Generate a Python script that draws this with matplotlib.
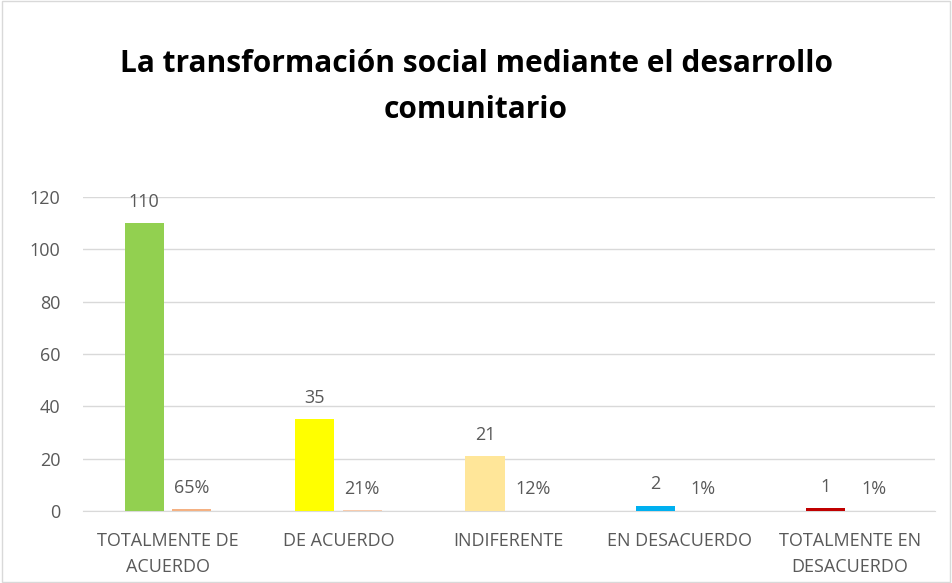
import matplotlib.pyplot as plt
from matplotlib.patches import Rectangle
import numpy as np

categorias = ["TOTALMENTE DE\nACUERDO", "DE ACUERDO", "INDIFERENTE",
              "EN DESACUERDO", "TOTALMENTE EN\nDESACUERDO"]
frecuencia = [110, 35, 21, 2, 1]
porcentaje = [0.65, 0.21, 0.12, 0.01, 0.01]
etiquetas_pct = ["65%", "21%", "12%", "1%", "1%"]

colores = ["#92D050", "#FFFF00", "#FFE699", "#00B0F0", "#C00000"]
colores_pct = ["#F4B183", "#F8CBAD", "#FBE5D6", "#DEEBF7", "#F4B183"]

plt.rcParams['font.family'] = ['Open Sans', 'DejaVu Sans']
gris = "#595959"
fs = 13

fig = plt.figure(figsize=(9.52, 5.83), dpi=100)
ax = fig.add_axes([0.087, 0.1235, 0.895, 0.5385])

x = np.arange(len(categorias))
w = 0.23
off = 0.14
b1 = ax.bar(x - off, frecuencia, w, color=colores, zorder=3)
b2 = ax.bar(x + off, porcentaje, w, color=colores_pct, zorder=3)

for rect, v in zip(b1, frecuencia):
    ax.annotate(str(v), (rect.get_x() + rect.get_width() / 2, v),
                xytext=(0, 9), textcoords="offset points",
                ha="center", va="bottom", fontsize=fs, color=gris)
for rect, v, t in zip(b2, porcentaje, etiquetas_pct):
    ax.annotate(t, (rect.get_x() + rect.get_width() / 2, v),
                xytext=(0, 9), textcoords="offset points",
                ha="center", va="bottom", fontsize=fs, color=gris)

ax.set_xlim(-0.5, 4.5)
ax.set_ylim(0, 120)
ax.set_yticks(range(0, 121, 20))
ax.set_xticks(x)
ax.set_xticklabels(categorias, fontsize=fs, color=gris, linespacing=1.6)
ax.tick_params(axis="y", labelsize=fs, labelcolor=gris, length=0, pad=16)
ax.tick_params(axis="x", length=0, pad=15)
ax.grid(axis="y", color="#D9D9D9", linewidth=1, zorder=0)
for s in ["top", "right", "left"]:
    ax.spines[s].set_visible(False)
ax.spines["bottom"].set_color("#D9D9D9")

fig.text(0.5, 0.85, "La transformación social mediante el desarrollo\ncomunitario",
         ha="center", va="center", fontsize=21.5, fontweight="bold",
         color="black", linespacing=1.7)

fig.patches.append(Rectangle((0.002, 0.002), 0.996, 0.996, transform=fig.transFigure,
                             fill=False, edgecolor="#D9D9D9", linewidth=1))

fig.savefig("out.png", dpi=100)
